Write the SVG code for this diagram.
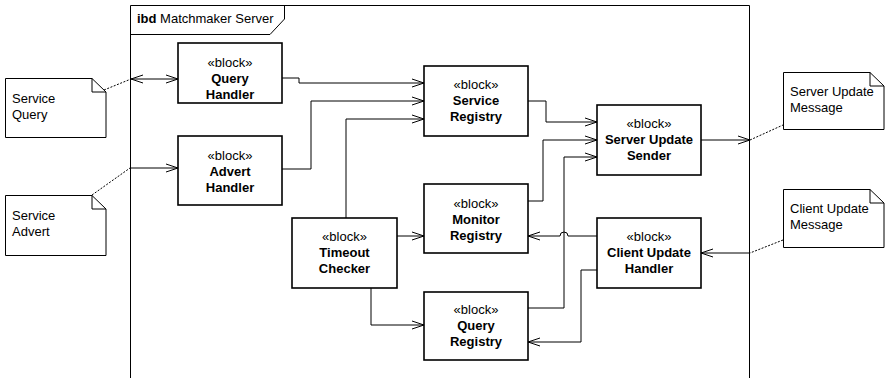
<svg xmlns="http://www.w3.org/2000/svg" width="885" height="378" viewBox="0 0 885 378">
<defs>
<marker id="arr" viewBox="0 0 12 10" refX="12" refY="5" markerWidth="12" markerHeight="10" markerUnits="userSpaceOnUse" orient="auto">
<path d="M0,1 L12,5 L0,9" fill="none" stroke="#000" stroke-width="1"/>
</marker>
<marker id="arrs" viewBox="0 0 12 10" refX="12" refY="5" markerWidth="12" markerHeight="10" markerUnits="userSpaceOnUse" orient="auto-start-reverse">
<path d="M0,1 L12,5 L0,9" fill="none" stroke="#000" stroke-width="1"/>
</marker>
</defs>
<style>
text{font-family:"Liberation Sans",Arial,sans-serif;font-size:13px;fill:#000}
.b{font-weight:bold}
.c{text-anchor:middle}
.box{fill:#fff;stroke:#000;stroke-width:1.6}
.note{fill:#fff;stroke:#000;stroke-width:1}
.ln{fill:none;stroke:#000;stroke-width:1}
.dash{fill:none;stroke:#000;stroke-width:1;stroke-dasharray:2,1.5}
</style>
<rect width="885" height="378" fill="#fff"/>
<g id="frame">
<path class="ln" d="M130.5,378 V5.5 H749.5 V378"/>
<path class="ln" d="M130.5,34.5 H270 L284.5,19 V5.5"/>
<text x="137" y="23"><tspan class="b">ibd</tspan> Matchmaker Server</text>
</g>
<g id="connectors">
<path class="dash" d="M104,90 L131,79"/>
<path class="ln" d="M131,79 H178" marker-start="url(#arrs)" marker-end="url(#arr)"/>
<path class="dash" d="M92,195 L130,168"/>
<path class="ln" d="M130,168 H178" marker-end="url(#arr)"/>
<path class="ln" d="M282,78 H299 V83 H424" marker-end="url(#arr)"/>
<path class="ln" d="M282,169 H311 V101 H424" marker-end="url(#arr)"/>
<path class="ln" d="M346,218 V119 H424" marker-end="url(#arr)"/>
<path class="ln" d="M528,101 H546 V122 H597" marker-end="url(#arr)"/>
<path class="ln" d="M528,201 H543 V140 H597" marker-end="url(#arr)"/>
<path class="ln" d="M528,308 H564 V157 H597" marker-end="url(#arr)"/>
<path class="ln" d="M701,140 H750" marker-end="url(#arr)"/>
<path class="dash" d="M750,140 L783,125"/>
<path class="dash" d="M783,240 L750,253"/>
<path class="ln" d="M750,253 H701" marker-end="url(#arr)"/>
<path class="ln" d="M597,236 H568 A4,4 0 0 0 560,236 H528" marker-end="url(#arr)"/>
<path class="ln" d="M597,270 H581 V342 H528" marker-end="url(#arr)"/>
<path class="ln" d="M397,236 H424" marker-end="url(#arr)"/>
<path class="ln" d="M371,288 V325 H424" marker-end="url(#arr)"/>
</g>
<g id="service-query">
<path class="note" d="M5.5,78.5 H92 L106,92 V137.5 H5.5 Z M92,78.5 V92 H106"/>
<text x="12" y="103">Service</text>
<text x="12" y="119">Query</text>
</g>
<g id="service-advert">
<path class="note" d="M5.5,195.5 H92 L106,209 V255.5 H5.5 Z M92,195.5 V209 H106"/>
<text x="12" y="220">Service</text>
<text x="12" y="236">Advert</text>
</g>
<g id="server-update-message">
<path class="note" d="M783.5,72.5 H870 L884,86 V129.5 H783.5 Z M870,72.5 V86 H884"/>
<text x="790" y="96">Server Update</text>
<text x="790" y="112">Message</text>
</g>
<g id="client-update-message">
<path class="note" d="M783.5,189.5 H870 L884,203 V247.5 H783.5 Z M870,189.5 V203 H884"/>
<text x="790" y="213">Client Update</text>
<text x="790" y="229">Message</text>
</g>
<g id="query-handler">
<rect class="box" x="178" y="43" width="104" height="60"/>
<text class="c" x="230" y="67">«block»</text>
<text class="c b" x="230" y="83">Query</text>
<text class="c b" x="230" y="99">Handler</text>
</g>
<g id="advert-handler">
<rect class="box" x="178" y="136" width="104" height="69"/>
<text class="c" x="230" y="160">«block»</text>
<text class="c b" x="230" y="176">Advert</text>
<text class="c b" x="230" y="192">Handler</text>
</g>
<g id="service-registry">
<rect class="box" x="424" y="66" width="104" height="70"/>
<text class="c" x="476" y="89">«block»</text>
<text class="c b" x="476" y="105">Service</text>
<text class="c b" x="476" y="121">Registry</text>
</g>
<g id="server-update-sender">
<rect class="box" x="597" y="105" width="104" height="70"/>
<text class="c" x="649" y="128">«block»</text>
<text class="c b" x="649" y="144">Server Update</text>
<text class="c b" x="649" y="160">Sender</text>
</g>
<g id="monitor-registry">
<rect class="box" x="424" y="184" width="104" height="69"/>
<text class="c" x="476" y="208">«block»</text>
<text class="c b" x="476" y="224">Monitor</text>
<text class="c b" x="476" y="240">Registry</text>
</g>
<g id="timeout-checker">
<rect class="box" x="292" y="218" width="105" height="70"/>
<text class="c" x="344.5" y="241">«block»</text>
<text class="c b" x="344.5" y="257">Timeout</text>
<text class="c b" x="344.5" y="273">Checker</text>
</g>
<g id="client-update-handler">
<rect class="box" x="597" y="218" width="104" height="70"/>
<text class="c" x="649" y="241">«block»</text>
<text class="c b" x="649" y="257">Client Update</text>
<text class="c b" x="649" y="273">Handler</text>
</g>
<g id="query-registry">
<rect class="box" x="424" y="292" width="104" height="68"/>
<text class="c" x="476" y="314">«block»</text>
<text class="c b" x="476" y="330">Query</text>
<text class="c b" x="476" y="346">Registry</text>
</g>
</svg>
